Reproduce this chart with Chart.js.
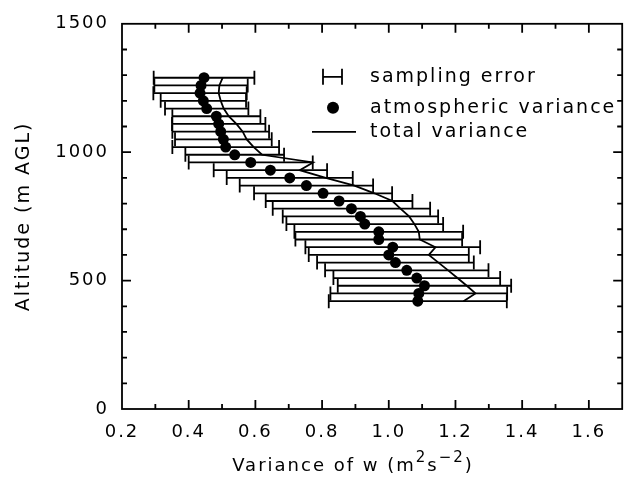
<!DOCTYPE html>
<html lang="en">
<head>
    <meta charset="UTF-8">
    <title>Variance of w profile</title>
    <script src="https://cdn.jsdelivr.net/npm/chart.js"></script>
    <style>
        body {
            margin: 0;
            background: #fff;
        }
        #wrap {
            width: 631px;
            height: 485px;
        }
    </style>
</head>
<body>
    <div id="wrap"><canvas id="myChart"></canvas></div>

    <script>
        // Altitude of each level (m AGL), bottom to top
        const altitude = [420, 450, 480, 510, 540, 570, 600, 630, 660, 690,
                          720, 750, 780, 810, 840, 870, 900, 930, 960, 990,
                          1020, 1050, 1080, 1110, 1140, 1170, 1200, 1230, 1260, 1290];

        // Atmospheric variance (dots)
        const atmVariance = [1.087, 1.090, 1.107, 1.084, 1.054, 1.020, 1.000, 1.012, 0.970, 0.970,
                             0.928, 0.915, 0.888, 0.851, 0.803, 0.753, 0.703, 0.645, 0.586, 0.538,
                             0.511, 0.504, 0.496, 0.490, 0.483, 0.454, 0.444, 0.434, 0.437, 0.446];

        // Total variance (solid line)
        const totalVariance = [1.224, 1.260, 1.234, 1.206, 1.178, 1.149, 1.120, 1.140, 1.093, 1.090,
                               1.077, 1.061, 1.035, 1.011, 0.957, 0.897, 0.811, 0.733, 0.773, 0.620,
                               0.595, 0.574, 0.562, 0.543, 0.520, 0.505, 0.496, 0.490, 0.492, 0.502];

        // Sampling error (half width of the error bar)
        const samplingError = [0.267, 0.265, 0.260, 0.250, 0.245, 0.235, 0.240, 0.262, 0.250, 0.253,
                               0.235, 0.233, 0.236, 0.220, 0.207, 0.200, 0.189, 0.170, 0.186, 0.148,
                               0.160, 0.145, 0.145, 0.140, 0.132, 0.125, 0.128, 0.140, 0.140, 0.151];

        const xTickStep = 0.2;
        const yTickStep = 500;

        const legendLabels = ['sampling error', 'atmospheric variance', 'total variance'];
        // x title pieces: [text, superscript?]
        const xTitleParts = [['Variance of w (m', false], ['2', true], ['s', false], ['−2', true], [')', false]];

        const FONT = '"DejaVu Sans", sans-serif';
        const LW = 1.8;

        // one little dataset per error bar, caps drawn as rotated line points
        function errorBarSets() {
            return altitude.map((alt, i) => ({
                label: 'err' + alt,
                data: [
                    { x: atmVariance[i] - samplingError[i], y: alt },
                    { x: atmVariance[i] + samplingError[i], y: alt }
                ],
                showLine: true,
                borderColor: '#000',
                borderWidth: LW,
                pointStyle: 'line',
                rotation: 90,
                pointRadius: 7,
                pointBorderWidth: LW,
                pointBorderColor: '#000',
                order: 2
            }));
        }

        // wide letter spacing like the original plot font (the canvas
        // state gets reset on resize, so set it again before layout/draw)
        const spacingPlugin = {
            id: 'spacing',
            beforeUpdate(chart) { chart.ctx.letterSpacing = '2px'; },
            beforeDraw(chart) { chart.ctx.letterSpacing = '2px'; }
        };

        // box around the plot with inward ticks on all four sides
        const framePlugin = {
            id: 'frame',
            afterDraw(chart) {
                const { ctx, chartArea: a, scales: { x, y } } = chart;
                ctx.save();
                ctx.strokeStyle = '#000';
                ctx.lineWidth = LW;
                ctx.strokeRect(a.left, a.top, a.width, a.height);
                ctx.beginPath();
                for (let k = 3; k <= 16; k++) {
                    const px = x.getPixelForValue(k / 10);
                    const len = k % 2 === 0 ? 9 : 5;
                    ctx.moveTo(px, a.bottom); ctx.lineTo(px, a.bottom - len);
                    ctx.moveTo(px, a.top); ctx.lineTo(px, a.top + len);
                }
                for (let v = 100; v < 1500; v += 100) {
                    const py = y.getPixelForValue(v);
                    const len = v % 500 === 0 ? 9 : 5;
                    ctx.moveTo(a.left, py); ctx.lineTo(a.left + len, py);
                    ctx.moveTo(a.right, py); ctx.lineTo(a.right - len, py);
                }
                ctx.stroke();
                ctx.restore();
            }
        };

        // x axis title with real superscripts (sits a bit left of centre in the original)
        const xTitlePlugin = {
            id: 'xTitle',
            afterDraw(chart) {
                const { ctx } = chart;
                const baseY = 471;
                const centreX = 353;
                ctx.save();
                ctx.fillStyle = '#000';
                ctx.letterSpacing = '2px';
                ctx.textBaseline = 'alphabetic';
                const fontOf = sup => (sup ? '15px ' : '18px ') + FONT;
                let total = 0;
                const widths = xTitleParts.map(([t, sup]) => {
                    ctx.font = fontOf(sup);
                    const w = ctx.measureText(t).width;
                    total += w;
                    return w;
                });
                let cx = centreX - total / 2;
                xTitleParts.forEach(([t, sup], i) => {
                    ctx.font = fontOf(sup);
                    ctx.fillText(t, cx, sup ? baseY - 9 : baseY);
                    cx += widths[i];
                });
                ctx.restore();
            }
        };

        // legend inside the plot, upper right
        const legendPlugin = {
            id: 'innerLegend',
            afterDraw(chart) {
                const { ctx, chartArea: a } = chart;
                const tx = a.left + 248;
                const rows = [a.top + 53, a.top + 84, a.top + 108];
                ctx.save();
                ctx.strokeStyle = '#000';
                ctx.fillStyle = '#000';
                ctx.lineWidth = LW;
                // sampling error symbol
                ctx.beginPath();
                ctx.moveTo(tx - 47, rows[0]); ctx.lineTo(tx - 28, rows[0]);
                ctx.moveTo(tx - 47, rows[0] - 8); ctx.lineTo(tx - 47, rows[0] + 8);
                ctx.moveTo(tx - 28, rows[0] - 8); ctx.lineTo(tx - 28, rows[0] + 8);
                // total variance symbol
                ctx.moveTo(tx - 58, rows[2]); ctx.lineTo(tx - 14, rows[2]);
                ctx.stroke();
                // atmospheric variance symbol
                ctx.beginPath();
                ctx.arc(tx - 37, rows[1], 6, 0, Math.PI * 2);
                ctx.fill();
                ctx.font = '19px ' + FONT;
                ctx.letterSpacing = '2px';
                ctx.textBaseline = 'middle';
                legendLabels.forEach((t, i) => ctx.fillText(t, tx, rows[i]));
                ctx.restore();
            }
        };

        function renderChart() {
            const ctx = document.getElementById('myChart').getContext('2d');

            Chart.defaults.font.family = FONT;
            Chart.defaults.color = '#000';

            new Chart(ctx, {
                type: 'scatter',
                data: {
                    datasets: [
                        {
                            label: legendLabels[1],
                            data: altitude.map((alt, i) => ({ x: atmVariance[i], y: alt })),
                            pointRadius: 5.5,
                            pointBackgroundColor: '#000',
                            pointBorderColor: '#000',
                            pointBorderWidth: 0,
                            order: 0
                        },
                        {
                            label: legendLabels[2],
                            data: altitude.map((alt, i) => ({ x: totalVariance[i], y: alt })),
                            showLine: true,
                            borderColor: '#000',
                            borderWidth: LW,
                            pointRadius: 0,
                            order: 1
                        },
                        ...errorBarSets()
                    ]
                },
                options: {
                    responsive: true,
                    maintainAspectRatio: false,
                    animation: false,
                    layout: { padding: { top: 16, right: 8, left: 0, bottom: 0 } },
                    plugins: {
                        legend: { display: false },
                        tooltip: { enabled: false }
                    },
                    scales: {
                        x: {
                            type: 'linear',
                            min: 0.2,
                            max: 1.7,
                            afterFit: s => { s.height = 76; },
                            grid: { display: false, drawTicks: false },
                            border: { display: false },
                            ticks: {
                                stepSize: xTickStep,
                                includeBounds: false,
                                padding: 13,
                                font: { size: 18 },
                                callback: v => Number(v).toFixed(1)
                            }
                        },
                        y: {
                            type: 'linear',
                            min: 0,
                            max: 1500,
                            afterFit: s => { s.width = 122; },
                            grid: { display: false, drawTicks: false },
                            border: { display: false },
                            ticks: {
                                stepSize: yTickStep,
                                includeBounds: false,
                                padding: 13,
                                font: { size: 18 },
                                callback: v => String(v)
                            },
                            title: {
                                display: true,
                                text: 'Altitude (m AGL)',
                                font: { size: 19 },
                                padding: { top: 13, bottom: 0 }
                            }
                        }
                    }
                },
                plugins: [spacingPlugin, framePlugin, xTitlePlugin, legendPlugin]
            });
        }

        renderChart();
    </script>
</body>
</html>
